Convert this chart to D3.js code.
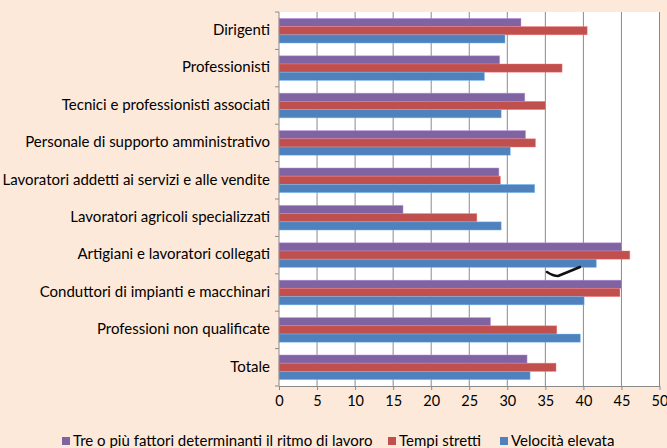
<!DOCTYPE html>
<html>
<head>
<meta charset="utf-8">
<script src="https://cdn.jsdelivr.net/npm/d3@7"></script>
<style>
  body { margin: 0; background: #fde9d9; }
  svg { display: block; }
  text { font-family: Lato, "Open Sans", sans-serif; fill: #000; }
</style>
</head>
<body>
<svg id="svgRoot" width="667" height="448"></svg>
<script>
const categories = [
  "Dirigenti",
  "Professionisti",
  "Tecnici e professionisti associati",
  "Personale di supporto amministrativo",
  "Lavoratori addetti ai servizi e alle vendite",
  "Lavoratori agricoli specializzati",
  "Artigiani e lavoratori collegati",
  "Conduttori di impianti e macchinari",
  "Professioni non qualificate",
  "Totale"
]

const series = [
  "Tre o più fattori determinanti il ritmo di lavoro",
  "Tempi stretti",
  "Velocità elevata"
]

const tre_fattori = [31.8, 29.0, 32.3, 32.4, 28.9, 16.3, 45.0, 45.0, 27.8, 32.6]
const tempi_stretti = [40.5, 37.2, 35.0, 33.7, 29.1, 26.0, 46.1, 44.8, 36.5, 36.4]
const velocita = [29.7, 27.0, 29.2, 30.4, 33.6, 29.2, 41.7, 40.1, 39.6, 33.0]

const x_ticks = [0, 5, 10, 15, 20, 25, 30, 35, 40, 45, 50]

const colors = ["#8064a2", "#c0504d", "#4f81bd"]

const values = [tre_fattori, tempi_stretti, velocita]

let rows = categories.map((c, i) => ({
  cat: c,
  vals: series.map((s, j) => ({ key: s, value: values[j][i] }))
}))

let svg = d3.select("#svgRoot")

const margin = { top: 12, left: 279, bottom: 62, right: 7.5 }
let width = 667
let height = 448

let scale_x = d3.scaleLinear()
  .domain([0, 50])
  .range([margin.left, width - margin.right])

let scale_y = d3.scaleBand()
  .domain(categories)
  .range([margin.top, height - margin.bottom])
  .paddingInner(0.34)
  .paddingOuter(0.17)

let scale_sub = d3.scaleBand()
  .domain(series)
  .range([0, scale_y.bandwidth()])

let color = d3.scaleOrdinal().domain(series).range(colors)

// plot area
svg.append("rect")
  .attr("x", scale_x(0))
  .attr("y", margin.top)
  .attr("width", scale_x(50) - scale_x(0))
  .attr("height", height - margin.bottom - margin.top)
  .attr("fill", "#fff")

// gridlines
svg.append("g")
  .selectAll("line")
  .data(x_ticks.slice(1))
  .enter()
  .append("line")
  .attr("x1", d => scale_x(d))
  .attr("x2", d => scale_x(d))
  .attr("y1", margin.top)
  .attr("y2", height - margin.bottom)
  .attr("stroke", "#8a8a8a")
  .attr("stroke-width", 1)

// bars
let g_bars = svg.append("g")
g_bars.selectAll(".grp")
  .data(rows)
  .enter()
  .append("g")
  .attr("transform", d => "translate(0," + scale_y(d.cat) + ")")
  .selectAll("rect")
  .data(d => d.vals)
  .enter()
  .append("rect")
  .attr("x", scale_x(0))
  .attr("y", d => scale_sub(d.key))
  .attr("width", d => scale_x(d.value) - scale_x(0))
  .attr("height", scale_sub.bandwidth())
  .attr("fill", d => color(d.key))
  .attr("stroke", d => d3.color(color(d.key)).brighter(1.2))
  .attr("stroke-opacity", 0.5)
  .attr("stroke-width", 0.8)

// x axis
let g_xAxis = svg.append("g")
  .attr("transform", "translate(0," + (height - margin.bottom) + ")")
  .call(d3.axisBottom(scale_x).tickValues(x_ticks).tickSize(4).tickSizeOuter(0))
g_xAxis.select(".domain").attr("stroke", "#8a8a8a")
g_xAxis.selectAll(".tick line").attr("stroke", "#8a8a8a")
g_xAxis.selectAll(".tick text")
  .attr("font-size", "14.5px")
  .attr("font-family", "Lato, sans-serif")
  .attr("fill", "#000")
  .attr("dy", "0.75em")
  .attr("y", 9)

// y axis: ticks at category boundaries
let step = scale_y.step()
let boundaries = d3.range(categories.length + 1).map(i => margin.top + i * step)
let g_yAxis = svg.append("g")
g_yAxis.append("line")
  .attr("x1", scale_x(0)).attr("x2", scale_x(0))
  .attr("y1", margin.top).attr("y2", height - margin.bottom)
  .attr("stroke", "#8a8a8a")
g_yAxis.selectAll(".btick")
  .data(boundaries)
  .enter()
  .append("line")
  .attr("x1", scale_x(0) - 4).attr("x2", scale_x(0))
  .attr("y1", d => d).attr("y2", d => d)
  .attr("stroke", "#8a8a8a")
g_yAxis.selectAll(".lbl")
  .data(categories)
  .enter()
  .append("text")
  .attr("x", scale_x(0) - 9)
  .attr("y", d => scale_y(d) + scale_y.bandwidth() / 2 - 1)
  .attr("dy", "0.35em")
  .attr("text-anchor", "end")
  .attr("font-size", "15px")
  .text(d => d)

// the hand-drawn tick near Artigiani
svg.append("path")
  .attr("d", "M547,272 Q553,276 558,276 Q568,272 580,267")
  .attr("fill", "none")
  .attr("stroke", "#111")
  .attr("stroke-width", 2.5)
  .attr("stroke-linecap", "round")

// legend
let legend_x = [62, 388, 500]
let g_legend = svg.append("g")
  .selectAll("g")
  .data(series)
  .enter()
  .append("g")
  .attr("transform", (d, i) => "translate(" + legend_x[i] + ",437)")
g_legend.append("rect")
  .attr("width", 8).attr("height", 8)
  .attr("fill", d => color(d))
g_legend.append("text")
  .attr("x", 11)
  .attr("y", 3.5)
  .attr("dy", "0.35em")
  .attr("font-size", "15px")
  .text(d => d)
</script>
</body>
</html>
